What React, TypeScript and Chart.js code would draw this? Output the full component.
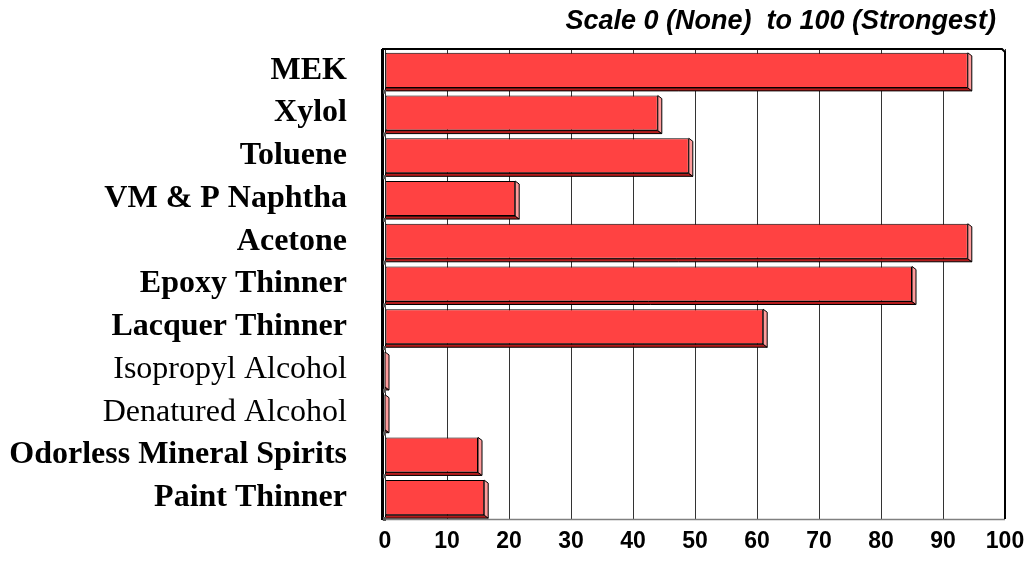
import React, { useEffect, useRef } from 'react';
import { Chart, registerables } from 'chart.js';

Chart.register(...registerables);

const categories = [
  'MEK',
  'Xylol',
  'Toluene',
  'VM & P Naphtha',
  'Acetone',
  'Epoxy Thinner',
  'Lacquer Thinner',
  'Isopropyl Alcohol',
  'Denatured Alcohol',
  'Odorless Mineral Spirits',
  'Paint Thinner',
];
const odorStrength = [94, 44, 49, 21, 94, 85, 61, 0, 0, 15, 16];
const boldLabels = [true, true, true, true, true, true, true, false, false, true, true];
const scaleMin = 0;
const scaleMax = 100;
const scaleStep = 10;
const titleText = 'Scale 0 (None)  to 100 (Strongest)';

const FRONT = '#ff4242';
const SIDE = '#ff9c9c';
const BOTTOM = '#b41c1c';

const bar3dPlugin = {
  id: 'bar3d',
  afterDatasetsDraw(chart: any) {
    const ctx = chart.ctx;
    const meta = chart.getDatasetMeta(0);
    const dx = 4;
    const dy = 3;
    ctx.save();
    ctx.lineWidth = 1;
    ctx.strokeStyle = '#000';
    meta.data.forEach((el: any) => {
      const p = el.getProps(['x', 'y', 'base', 'height'], true);
      const x0 = p.base;
      const x1 = p.x;
      const y0 = p.y - p.height / 2;
      const y1 = p.y + p.height / 2;
      // bottom face
      ctx.beginPath();
      ctx.moveTo(x0, y1);
      ctx.lineTo(x1, y1);
      ctx.lineTo(x1 + dx, y1 + dy);
      ctx.lineTo(x0, y1 + dy);
      ctx.closePath();
      ctx.fillStyle = BOTTOM;
      ctx.fill();
      ctx.stroke();
      // right face
      ctx.beginPath();
      ctx.moveTo(x1, y0);
      ctx.lineTo(x1 + dx, y0 + dy);
      ctx.lineTo(x1 + dx, y1 + dy);
      ctx.lineTo(x1, y1);
      ctx.closePath();
      ctx.fillStyle = SIDE;
      ctx.fill();
      ctx.stroke();
    });
    ctx.restore();
  },
};

const framePlugin = {
  id: 'frame3d',
  afterDatasetsDraw(chart: any) {
    const ctx = chart.ctx;
    const { left, right, top, bottom } = chart.chartArea;
    const yScale = chart.scales.y;
    ctx.save();
    // bottom (floor) edge
    ctx.strokeStyle = '#808080';
    ctx.lineWidth = 1.5;
    ctx.beginPath();
    ctx.moveTo(left - 3, bottom + 0.5);
    ctx.lineTo(right, bottom + 0.5);
    ctx.stroke();
    // top & right edge of the back wall
    ctx.strokeStyle = '#000';
    ctx.lineWidth = 2;
    ctx.beginPath();
    ctx.moveTo(left - 3, top);
    ctx.lineTo(right - 3, top);
    ctx.lineTo(right, top + 3);
    ctx.lineTo(right, bottom);
    ctx.stroke();
    // left axis
    ctx.lineWidth = 3;
    ctx.beginPath();
    ctx.moveTo(left - 2.5, top);
    ctx.lineTo(left - 2.5, bottom + 1);
    ctx.stroke();
    // small depth markers on the category axis
    ctx.fillStyle = '#555';
    const n = categories.length;
    for (let i = 0; i < n; i++) {
      const yb = (yScale.getPixelForValue(i) + (i < n - 1 ? yScale.getPixelForValue(i + 1) : yScale.getPixelForValue(i) * 2 - yScale.getPixelForValue(i - 1))) / 2;
      ctx.fillRect(left - 2, yb - 2, 3, 4);
    }
    ctx.restore();
  },
  afterDraw(chart: any) {
    const ctx = chart.ctx;
    const { right } = chart.chartArea;
    ctx.save();
    ctx.fillStyle = '#000';
    ctx.font = 'italic bold 27px "Liberation Sans", Arial, sans-serif';
    ctx.textAlign = 'right';
    ctx.textBaseline = 'middle';
    ctx.fillText(titleText, right - 9, 22);
    ctx.restore();
  },
};

export default function App() {
  const canvasRef = useRef<HTMLCanvasElement | null>(null);

  useEffect(() => {
    if (!canvasRef.current) return;
    const chart = new Chart(canvasRef.current, {
      type: 'bar',
      data: {
        labels: categories,
        datasets: [
          {
            data: odorStrength,
            backgroundColor: FRONT,
            borderColor: '#000',
            borderWidth: 1,
            borderSkipped: false,
            categoryPercentage: 1,
            barPercentage: 0.82,
          },
        ],
      },
      options: {
        indexAxis: 'y',
        animation: false,
        responsive: true,
        maintainAspectRatio: false,
        layout: { padding: { top: 49, right: 26, bottom: 0, left: 0 } },
        plugins: {
          legend: { display: false },
          title: { display: false },
          tooltip: { enabled: false },
        },
        scales: {
          x: {
            min: scaleMin,
            max: scaleMax,
            ticks: {
              stepSize: scaleStep,
              color: '#000',
              padding: 9,
              font: { family: '"Liberation Sans", Arial, sans-serif', size: 23, weight: 'bold' },
            },
            grid: { color: '#333', lineWidth: 1, drawTicks: false },
            border: { display: false },
            afterFit: (s: any) => {
              s.height = 44;
              s.paddingLeft = 0;
              s.paddingRight = 0;
            },
          },
          y: {
            ticks: {
              color: '#000',
              padding: 38,
              font: (c: any) => ({
                family: '"Liberation Serif", "Times New Roman", serif',
                size: 32,
                weight: boldLabels[c.index] ? 'bold' : 'normal',
              }),
            },
            grid: { display: false, drawTicks: false },
            border: { display: false },
            afterFit: (s: any) => {
              s.width = 385;
              s.paddingTop = 0;
              s.paddingBottom = 0;
            },
          },
        },
      },
      plugins: [bar3dPlugin, framePlugin],
    });
    return () => chart.destroy();
  }, []);

  return (
    <div style={{ position: 'absolute', left: 0, top: 0, width: 1031, height: 563, background: '#fff' }}>
      <canvas ref={canvasRef} />
    </div>
  );
}
